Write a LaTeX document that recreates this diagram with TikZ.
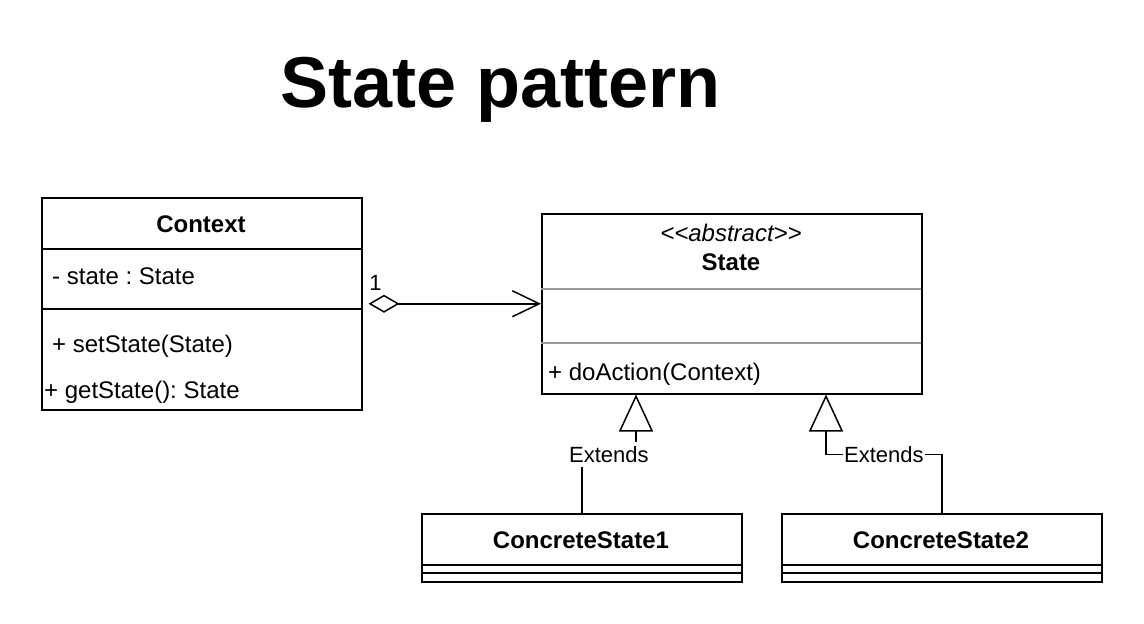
\documentclass[tikz,border=0pt]{standalone}
\usepackage{fontspec}
\setmainfont{Liberation Sans}
\usepackage{tikz}
\usetikzlibrary{arrows.meta, positioning, calc}
\definecolor{umlgray}{RGB}{153, 153, 153}
\frenchspacing

\begin{document}
\begin{tikzpicture}[x=1pt, y=-1pt,
    cls/.style={draw, line width=1.5pt, anchor=north west,
                minimum width=320pt, inner sep=0pt},
    clsname/.style={anchor=base, inner sep=0pt, font=\fontsize{24}{28}\selectfont\bfseries},
    attr/.style={anchor=base west, inner sep=0pt, font=\fontsize{24}{28}\selectfont},
    lbl/.style={fill=white, inner xsep=1pt, inner ysep=4pt, font=\fontsize{22}{26}\selectfont},
    sep/.style={line width=1.5pt},
    agg/.style={{Diamond[open, length=31pt, width=18pt]}-{Straight Barb[length=27pt, width=26pt]}, line width=1.5pt},
    ext/.style={-{Triangle[open, length=37pt, width=34pt]}, line width=1.5pt},
]
\useasboundingbox (0,0) rectangle (1144,624);

\node[anchor=base, inner sep=0pt, font=\fontsize{72}{86}\selectfont\bfseries] (title) at (501,107) {State pattern};

\node[cls, minimum height=212pt] (ctx) at (41,197) {};
\node[clsname] (ctxname) at (201,232) {Context};
\node[attr] (ctxstate) at (52,284) {- state : State};
\node[attr] (ctxset) at (52,352) {+ setState(State)};
\node[attr] (ctxget) at (44,398) {+ getState(): State};
\draw[sep] (41,249) -- (361,249) (41,309) -- (361,309);

\node[cls, minimum width=380pt, minimum height=180pt] (state) at (541,213) {};
\node[anchor=base, inner sep=0pt, font=\fontsize{24}{28}\selectfont\itshape] (stateabs) at (731,241)
    {<\kern0pt<abstract>\kern0pt>};
\node[clsname] (statename) at (731,270) {State};
\draw[sep, umlgray] (541,289) -- (921,289) (541,343) -- (921,343);
\node[attr] (stateop) at (548,380) {+ doAction(Context)};

\node[cls, minimum height=68pt] (cs1) at (421,513) {};
\node[clsname] (cs1name) at (581,548) {ConcreteState1};
\draw[sep] (421,565) -- (741,565) (421,573) -- (741,573);

\node[cls, minimum height=68pt] (cs2) at (781,513) {};
\node[clsname] (cs2name) at (941,548) {ConcreteState2};
\draw[sep] (781,565) -- (1101,565) (781,573) -- (1101,573);

\coordinate (s1) at ($(state.south west)+(95,0)$);
\coordinate (s2) at ($(state.south west)+(285,0)$);

\draw[agg] ([xshift=6pt]ctx.east) node[anchor=south west, inner sep=0pt, yshift=13pt,
    font=\fontsize{22}{26}\selectfont] {1} -- (state.west);
\draw[ext] (cs1.north) |- node[lbl, pos=0.75] {Extends} ($(s1)+(0,60)$) -- (s1);
\draw[ext] (cs2.north) |- node[lbl, pos=0.75] {Extends} ($(s2)+(0,60)$) -- (s2);

\end{tikzpicture}
\end{document}
